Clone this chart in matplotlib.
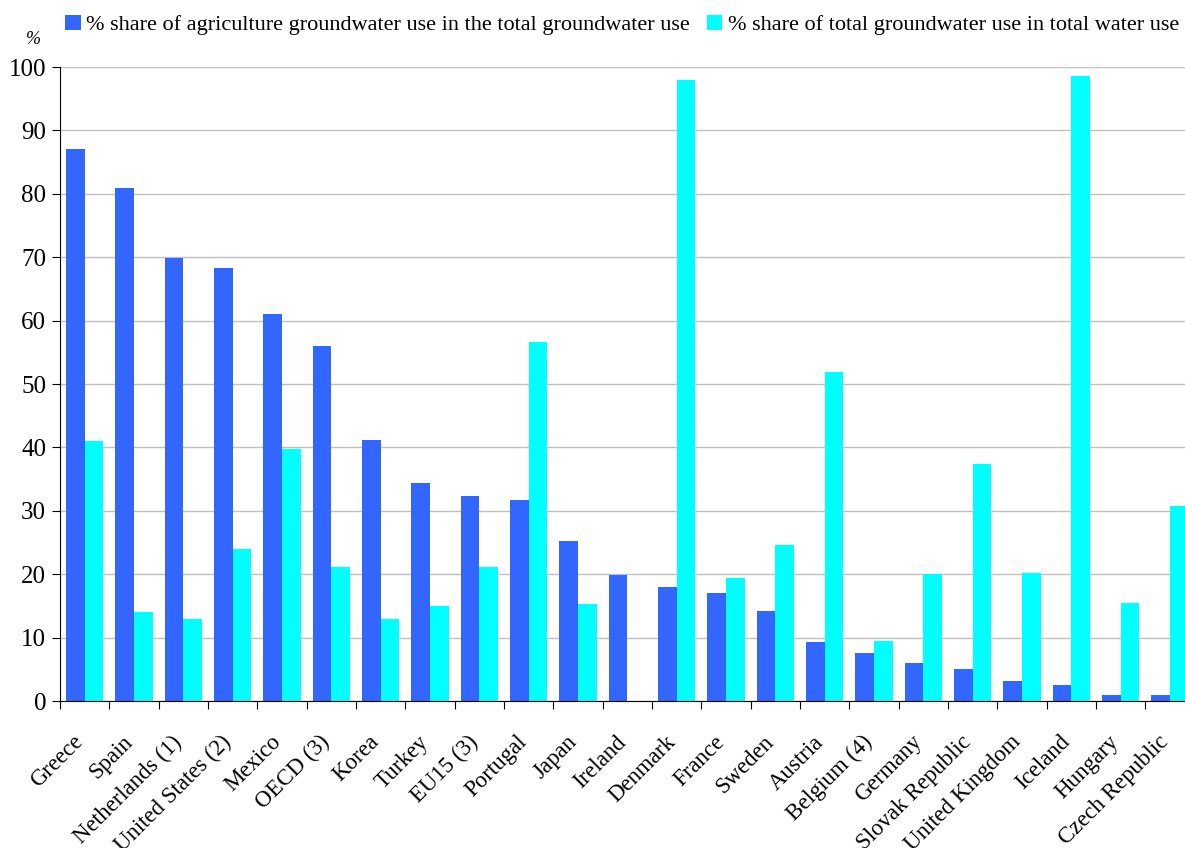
import numpy as np
import matplotlib
matplotlib.use('Agg')
import matplotlib.pyplot as plt
from matplotlib.transforms import ScaledTranslation

countries = ['Greece', 'Spain', 'Netherlands (1)', 'United States (2)', 'Mexico',
             'OECD (3)', 'Korea', 'Turkey', 'EU15 (3)', 'Portugal', 'Japan',
             'Ireland', 'Denmark', 'France', 'Sweden', 'Austria', 'Belgium (4)',
             'Germany', 'Slovak Republic', 'United Kingdom', 'Iceland', 'Hungary',
             'Czech Republic']
agri_share = [87.1, 80.9, 69.9, 68.3, 61.0, 56.0, 41.2, 34.4, 32.3, 31.7, 25.2,
              19.9, 18.0, 17.0, 14.2, 9.3, 7.6, 6.0, 5.0, 3.2, 2.5, 0.9, 0.9]
gw_share = [41.0, 14.0, 12.9, 24.0, 39.7, 21.1, 12.9, 15.0, 21.1, 56.6, 15.3,
            0.0, 97.9, 19.4, 24.6, 51.9, 9.5, 20.0, 37.4, 20.2, 98.6, 15.5, 30.8]

plt.rcParams['font.family'] = ['Liberation Serif', 'DejaVu Serif']

fig = plt.figure(figsize=(11.85, 8.48), dpi=100)
ax = fig.add_axes([60 / 1185, 1 - 701 / 848, (1194.6 - 60) / 1185, (701 - 67) / 848])

x = np.arange(len(countries))
w = 0.38
b1 = ax.bar(x - w / 2, agri_share, w, color='#3366ff',
            label='% share of agriculture groundwater use in the total groundwater use')
b2 = ax.bar(x + w / 2, gw_share, w, color='#00ffff',
            label='% share of total groundwater use in total water use')

ax.set_xlim(-0.5, len(countries) - 0.5)
ax.set_ylim(0, 100)
ax.set_yticks(range(0, 101, 10))
ax.tick_params(axis='y', labelsize=18, length=6, direction='out', pad=4)
ax.yaxis.grid(True, color='#c0c0c0', linewidth=1)
ax.set_axisbelow(True)

# boundary ticks between categories, labels on the centres
ax.set_xticks(np.arange(len(countries) + 1) - 0.5)
ax.set_xticklabels([])
ax.tick_params(axis='x', length=6, direction='out')
ax.set_xticks(x, minor=True)
ax.set_xticklabels(countries, minor=True, rotation=45, ha='right', va='top',
                   rotation_mode='anchor', fontsize=16.5)
ax.tick_params(axis='x', which='minor', length=0, pad=22)
shift = ScaledTranslation(-12 / 100, 0, fig.dpi_scale_trans)
for lbl in ax.get_xticklabels(minor=True):
    lbl.set_transform(lbl.get_transform() + shift)

for s in ['top', 'right']:
    ax.spines[s].set_visible(False)

fig.text(33 / 1185, 1 - 40 / 848, '%', fontsize=13, style='italic', ha='center', va='center')

fig.legend(handles=[b1, b2], loc='center', bbox_to_anchor=(622 / 1185, 1 - 25 / 848),
           ncol=2, frameon=False, fontsize=16, handlelength=0.7, handleheight=0.7,
           handletextpad=0.25, columnspacing=0.75, borderaxespad=0)

fig.savefig('out.png', dpi=100)
